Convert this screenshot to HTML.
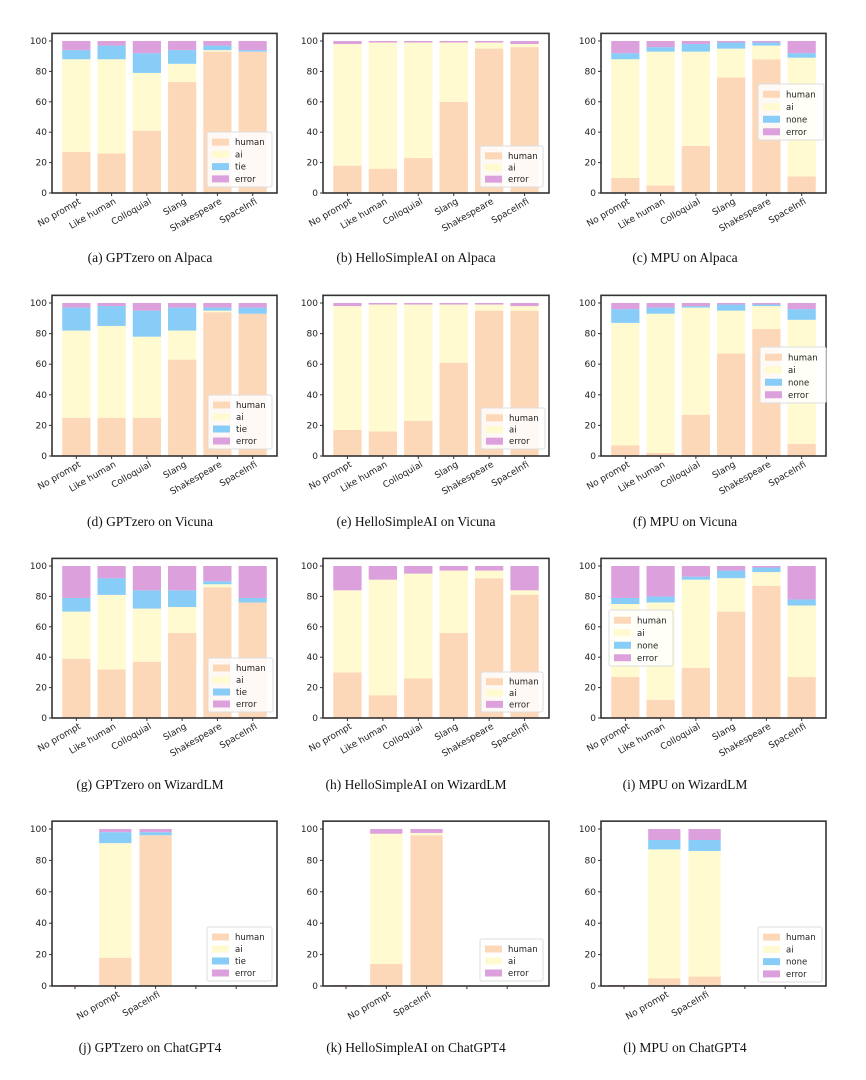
<!DOCTYPE html>
<html><head><meta charset="utf-8">
<style>
html,body{margin:0;padding:0;background:#fff;}
svg{display:block;}
text{font-family:"DejaVu Sans","Liberation Sans",sans-serif;fill:#222;}
.cap{font-family:"Liberation Serif",serif;font-size:13.5px;fill:#111;}
</style></head>
<body>
<svg id="fig" width="866" height="1080" viewBox="0 0 866 1080" xmlns="http://www.w3.org/2000/svg"></svg>
<script>
const catsFull = ["No prompt","Like human","Colloquial","Slang","Shakespeare","SpaceInfi"];
const catsGpt4 = ["","No prompt","SpaceInfi","",""];
const yTicks = [0,20,40,60,80,100];

const aHuman=[27,26,41,73,93,93], aAi=[61,62,38,12,1,0], aTie=[6,9,13,9,3,1], aErr=[6,3,8,6,3,6];
const bHuman=[18,16,23,60,95,96], bAi=[80,83,76,39,4,2], bErr=[2,1,1,1,1,2];
const cHuman=[10,5,31,76,88,11], cAi=[78,88,62,19,9,78], cNone=[4,3,5,4,2,3], cErr=[8,4,2,1,1,8];
const dHuman=[25,25,25,63,94,93], dAi=[57,60,53,19,1,0], dTie=[15,13,17,15,2,4], dErr=[3,2,5,3,3,3];
const eHuman=[17,16,23,61,95,95], eAi=[81,83,76,38,4,3], eErr=[2,1,1,1,1,2];
const fHuman=[7,2,27,67,83,8], fAi=[80,91,70,28,15,81], fNone=[9,4,1,4,1,7], fErr=[4,3,2,1,1,4];
const gHuman=[39,32,37,56,86,76], gAi=[31,49,35,17,2,0], gTie=[9,11,12,11,2,3], gErr=[21,8,16,16,10,21];
const hHuman=[30,15,26,56,92,81], hAi=[54,76,69,41,5,3], hErr=[16,9,5,3,3,16];
const iHuman=[27,12,33,70,87,27], iAi=[48,64,58,22,9,47], iNone=[4,4,2,5,3,4], iErr=[21,20,7,3,1,22];
const jHuman=[0,18,96,0,0], jAi=[0,73,0,0,0], jTie=[0,7,2,0,0], jErr=[0.6,2,2,0,0];
const kHuman=[0,14,96,0,0], kAi=[0,83,1.5,0,0], kErr=[0.6,3,2.5,0,0];
const lHuman=[0,5,6,0,0], lAi=[0,82,80,0,0], lNone=[0,6,7,0,0], lErr=[0.6,7,7,0,0];

const COL={human:"#fdd8b8",ai:"#fffad0",tie:"#88cdf8",none:"#88cdf8",error:"#dca0dc"};
const NS="http://www.w3.org/2000/svg";
const svg=document.getElementById("fig");
function mk(tag,attrs,parent){const e=document.createElementNS(NS,tag);for(const k in attrs)e.setAttribute(k,attrs[k]);(parent||svg).appendChild(e);return e;}

const colX=[[52,277],[323,549],[601,826]];
const rowY=[[193,41],[456,303],[718,566],[986,829]];
const capCX=[150,416,685];
const capY=[262,526,789,1052];

const panels=[
 {id:"a",r:0,c:0,cats:catsFull,series:[["human",aHuman],["ai",aAi],["tie",aTie],["error",aErr]],leg:[207,132,272,187],cap:"(a)  GPTzero on Alpaca"},
 {id:"b",r:0,c:1,cats:catsFull,series:[["human",bHuman],["ai",bAi],["error",bErr]],leg:[480,146,543,187],cap:"(b)  HelloSimpleAI on Alpaca"},
 {id:"c",r:0,c:2,cats:catsFull,series:[["human",cHuman],["ai",cAi],["none",cNone],["error",cErr]],leg:[758,84,824,140],cap:"(c)  MPU on Alpaca"},
 {id:"d",r:1,c:0,cats:catsFull,series:[["human",dHuman],["ai",dAi],["tie",dTie],["error",dErr]],leg:[208,395,272,449],cap:"(d)  GPTzero on Vicuna"},
 {id:"e",r:1,c:1,cats:catsFull,series:[["human",eHuman],["ai",eAi],["error",eErr]],leg:[481,408,545,449],cap:"(e)  HelloSimpleAI on Vicuna"},
 {id:"f",r:1,c:2,cats:catsFull,series:[["human",fHuman],["ai",fAi],["none",fNone],["error",fErr]],leg:[760,347,826,403],cap:"(f)  MPU on Vicuna"},
 {id:"g",r:2,c:0,cats:catsFull,series:[["human",gHuman],["ai",gAi],["tie",gTie],["error",gErr]],leg:[208,658,273,712],cap:"(g)  GPTzero on WizardLM"},
 {id:"h",r:2,c:1,cats:catsFull,series:[["human",hHuman],["ai",hAi],["error",hErr]],leg:[481,672,543,712],cap:"(h)  HelloSimpleAI on WizardLM"},
 {id:"i",r:2,c:2,cats:catsFull,series:[["human",iHuman],["ai",iAi],["none",iNone],["error",iErr]],leg:[609,610,673,666],cap:"(i)  MPU on WizardLM"},
 {id:"j",r:3,c:0,cats:catsGpt4,series:[["human",jHuman],["ai",jAi],["tie",jTie],["error",jErr]],leg:[207,927,272,981],cap:"(j)  GPTzero on ChatGPT4"},
 {id:"k",r:3,c:1,cats:catsGpt4,series:[["human",kHuman],["ai",kAi],["error",kErr]],leg:[480,939,543,981],cap:"(k)  HelloSimpleAI on ChatGPT4"},
 {id:"l",r:3,c:2,cats:catsGpt4,series:[["human",lHuman],["ai",lAi],["none",lNone],["error",lErr]],leg:[758,927,822,982],cap:"(l)  MPU on ChatGPT4"}
];

panels.forEach(p=>{
  const [x0,x1]=colX[p.c],[y0,y100]=rowY[p.r];
  const g=mk("g",{});
  
  
  const top=y100-(y0-y100)*0.05;
  const n=p.cats.length;
  let slot,off;
  if(n===6){slot=(x1-x0)/6.38;off=slot*0.69;}else{slot=40.3;off=23;}
  const xc=i=>x0+off+i*slot;
  const ys=v=>y0-(v/100)*(y0-y100);
  for(let i=0;i<n;i++){
    let acc=0;
    p.series.forEach(([name,arr])=>{
      const v=arr[i]; if(!v) return;
      const r=mk("rect",{x:xc(i)-slot*0.4,y:ys(acc+v),width:slot*0.8,height:Math.max(ys(acc)-ys(acc+v),0.8),fill:COL[name]},g);
      
      
      acc+=v;
    });
  }
  const fr=mk("rect",{x:x0,y:top,width:x1-x0,height:y0-top,fill:"none",stroke:"#333",'stroke-width':1.6},g);
  
  
  yTicks.forEach(t=>{
    mk("line",{x1:x0-3,x2:x0,y1:ys(t),y2:ys(t),stroke:"#333",'stroke-width':1},g);
    const tx=mk("text",{x:x0-5,y:ys(t)+3,'text-anchor':'end','font-size':9},g);
    tx.textContent=t;
    
    
  });
  for(let i=0;i<n;i++){
    mk("line",{x1:xc(i),x2:xc(i),y1:y0,y2:y0+3,stroke:"#333",'stroke-width':1},g);
    if(p.cats[i]){
      const tx=mk("text",{x:xc(i)+5,y:y0+10,'text-anchor':'end','font-size':9,transform:`rotate(-30 ${xc(i)+5} ${y0+10})`},g);
      tx.textContent=p.cats[i];
      
      
    }
  }
  const [lx0,ly0,lx1,ly1]=p.leg;
  const lg=mk("g",{},g);
  
  
  mk("rect",{x:lx0,y:ly0,width:lx1-lx0,height:ly1-ly0,fill:"#fff",'fill-opacity':0.85,stroke:"#ddd",rx:2},lg);
  const step=(ly1-ly0-6)/p.series.length;
  p.series.forEach(([name],k)=>{
    const cy=ly0+4+step*(k+0.5);
    const sw=mk("rect",{x:lx0+5,y:cy-3.5,width:17,height:7,fill:COL[name]},lg);
    
    
    const t=mk("text",{x:lx0+28,y:cy+3,'font-size':8.5},lg);
    t.textContent=name;
    
    
  });
  const cap=mk("text",{x:capCX[p.c],y:capY[p.r],'text-anchor':'middle',class:'cap'},g);
  cap.textContent=p.cap;
  
  
});
</script>
</body></html>
